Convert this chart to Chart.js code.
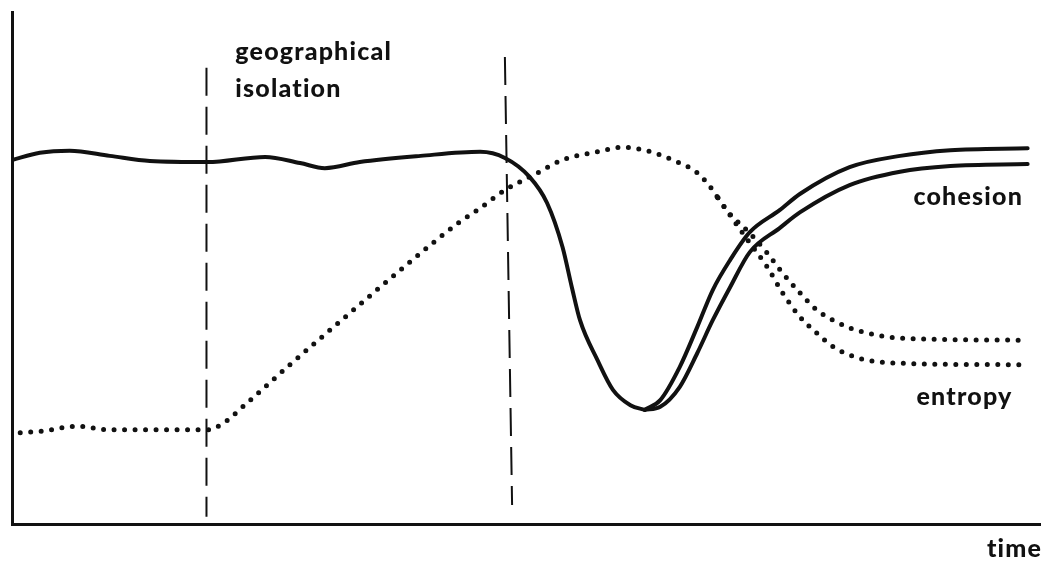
<!DOCTYPE html>
<html>
<head>
<meta charset="utf-8">
<script src="https://cdn.jsdelivr.net/npm/chart.js@4/dist/chart.umd.min.js"></script>
<style>
  html, body { margin: 0; padding: 0; background: #fff; }
  #wrap { width: 1041px; height: 564px; }
</style>
</head>
<body>
<div id="wrap"><canvas id="chart"></canvas></div>
<script>
// DATA (time 0-100, level 0-100)

// cohesion: one line until the trough, then it splits in two
const cohesionTime = [0, 2.7, 5.6, 9.5, 13.4, 19.0, 24.6, 28.0, 30.4, 33.8, 39.7, 45.5, 47.9, 50.3, 52.0, 53.5, 54.4, 55.2, 56.9, 58.4, 60.1, 61.5];
const cohesion = [71.1, 72.5, 72.9, 71.9, 70.9, 70.7, 71.7, 70.5, 69.5, 70.7, 71.9, 72.7, 71.5, 67.8, 62.7, 54.1, 46.3, 39.8, 32.0, 26.2, 23.2, 22.3];

const cohesionUpperTime = [61.5, 63.0, 64.9, 66.6, 68.1, 69.8, 71.7, 74.6, 76.6, 81.4, 86.3, 91.2, 98.7];
const cohesionUpper = [22.3, 24.2, 30.7, 38.5, 45.7, 51.6, 57.0, 61.3, 64.5, 69.7, 71.9, 73.0, 73.4];

const cohesionLowerTime = [61.5, 63.0, 64.9, 66.6, 68.1, 69.8, 71.7, 74.6, 76.6, 81.4, 86.3, 91.2, 98.7];
const cohesionLower = [22.3, 22.9, 26.8, 33.4, 39.8, 46.3, 53.1, 57.8, 60.9, 66.2, 68.8, 69.9, 70.3];

// entropy: dotted, also splits after the peak
const entropyTime = [0.8, 3.2, 6.3, 9.5, 14.4, 19.0, 20.4, 22.6, 27.0, 31.9, 35.8, 39.7, 43.5, 45.5, 47.9, 51.1, 53.5, 56.9, 59.4, 61.7, 64.2, 66.6, 68.1, 68.6];
const entropy = [17.8, 18.2, 19.1, 18.4, 18.4, 18.4, 19.5, 23.2, 31.1, 39.6, 46.3, 52.9, 59.0, 61.7, 65.2, 68.6, 71.1, 72.7, 73.6, 72.9, 71.1, 68.6, 65.2, 63.7];

const entropyUpperTime = [68.6, 69.7, 71.7, 73.4, 74.9, 76.6, 78.2, 79.8, 81.4, 83.1, 86.3, 98.3];
const entropyUpper = [63.7, 60.7, 56.8, 52.9, 49.0, 45.1, 41.8, 39.8, 38.3, 37.3, 36.3, 35.9];

const entropyLowerTime = [68.6, 70.1, 71.7, 73.4, 74.9, 76.6, 78.2, 79.8, 81.4, 83.1, 86.3, 97.9];
const entropyLower = [63.7, 59.4, 54.9, 50.2, 45.1, 40.4, 37.3, 34.6, 33.0, 32.0, 31.4, 31.1];

// geographical isolation markers (start / end), slightly hand-drawn
const isolationStartTime = [18.9, 18.9];
const isolationStartLevel = [89.1, 1.4];
const isolationEndTime = [47.9, 48.6];
const isolationEndLevel = [91.2, 3.7];

// text labels: [text, time, level]
const labels = [
  ['geographical', 21.7, 90.6],
  ['isolation', 21.7, 83.4],
  ['cohesion', 87.6, 62.3],
  ['entropy', 87.9, 23.2],
  ['time', 94.75, -6.4],
];

const INK = '#111';
const pts = (xs, ys) => xs.map((x, i) => ({ x, y: ys[i] }));

const solid = (data) => ({
  data,
  borderColor: INK,
  borderWidth: 4,
  pointRadius: 0,
  cubicInterpolationMode: 'monotone',
  borderCapStyle: 'round',
});

const dotted = (data) => ({
  data,
  borderColor: INK,
  borderWidth: 5,
  borderDash: [0, 10.5],
  borderCapStyle: 'round',
  pointRadius: 0,
  cubicInterpolationMode: 'monotone',
});

const dashed = (data) => ({
  data,
  borderColor: INK,
  borderWidth: 2,
  borderDash: [28, 11],
  pointRadius: 0,
  tension: 0,
});

// draws the word labels at data positions
const textLabels = {
  id: 'textLabels',
  afterDatasetsDraw(chart) {
    const { ctx, scales } = chart;
    ctx.save();
    ctx.fillStyle = INK;
    ctx.font = '900 25px Lato';
    if ('letterSpacing' in ctx) ctx.letterSpacing = '1.2px';
    ctx.textAlign = 'left';
    ctx.textBaseline = 'alphabetic';
    labels.forEach(([text, t, v]) => {
      ctx.fillText(text, scales.x.getPixelForValue(t), scales.y.getPixelForValue(v));
    });
    ctx.restore();
  },
};

const hiddenAxis = {
  min: 0,
  max: 100,
  grid: { display: false, drawTicks: false },
  ticks: { display: false },
  border: { display: true, color: INK, width: 3 },
};

new Chart(document.getElementById('chart'), {
  type: 'line',
  data: {
    datasets: [
      solid(pts(cohesionTime, cohesion)),
      solid(pts(cohesionUpperTime, cohesionUpper)),
      solid(pts(cohesionLowerTime, cohesionLower)),
      dotted(pts(entropyTime, entropy)),
      dotted(pts(entropyUpperTime, entropyUpper)),
      dotted(pts(entropyLowerTime, entropyLower)),
      dashed(pts(isolationStartTime, isolationStartLevel)),
      dashed(pts(isolationEndTime, isolationEndLevel)),
    ],
  },
  options: {
    responsive: true,
    maintainAspectRatio: false,
    animation: false,
    layout: { padding: { left: 12, top: 12, right: 0, bottom: 40 } },
    scales: {
      x: { type: 'linear', ...hiddenAxis },
      y: { ...hiddenAxis },
    },
    plugins: {
      legend: { display: false },
      tooltip: { enabled: false },
    },
  },
  plugins: [textLabels],
});
</script>
</body>
</html>
